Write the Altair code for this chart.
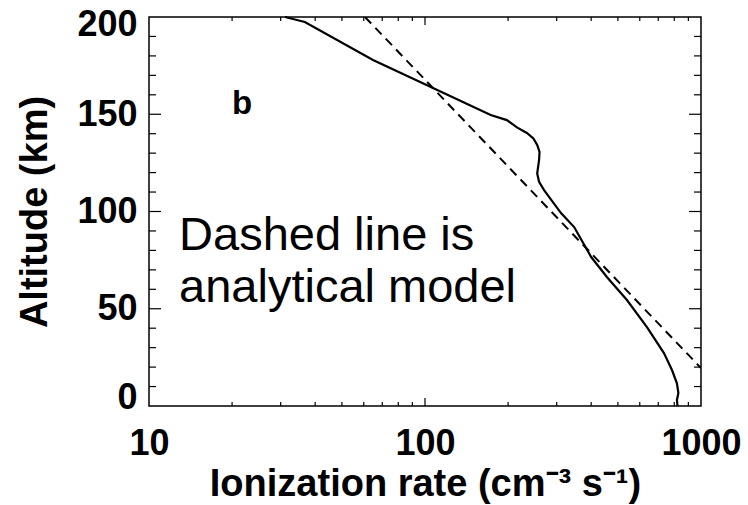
import altair as alt
import pandas as pd

# Solid curve (computed ionization rate profile)
solid_rate = [31.1, 36.7, 64.8, 105.0, 150.0, 173.0, 198.0, 216.0, 234.0, 247.0, 255.0, 260.0, 259.0,
              255.0, 259.0, 270.0, 311.0, 347.0, 400.0, 456.0, 539.0, 637.0, 734.0, 785.0, 818.0,
              828.0, 818.0, 822.0]
solid_alt = [200.0, 197.4, 177.9, 164.0, 153.7, 149.6, 147.0, 143.1, 140.4, 137.6, 134.2, 130.7, 126.5,
             119.6, 115.3, 111.0, 99.2, 92.0, 76.6, 66.3, 54.5, 40.6, 27.2, 18.5, 11.7,
             6.7, 3.1, 0.0]

# Dashed line (analytical model)
dashed_rate = [60.6, 1000.0]
dashed_alt = [200.0, 19.5]

# Annotations
panel_label = ["b"]
panel_x = [20.0]
panel_y = [150.0]
note_lines = ["Dashed line is", "analytical model"]
note_x = [12.85, 12.85]
note_y = [80.2, 53.5]

# Axis tick values
x_labels = [10, 100, 1000]
x_minor = [20, 30, 40, 50, 60, 70, 80, 90, 200, 300, 400, 500, 600, 700, 800, 900]
x_major_inner = [100]
y_labels = [0, 50, 100, 150, 200]
y_major_inner = [50, 100, 150]
y_minor = [10, 20, 30, 40, 60, 70, 80, 90, 110, 120, 130, 140, 160, 170, 180, 190]

W, H = 552, 389

solid_df = pd.DataFrame({"rate": solid_rate, "alt": solid_alt, "i": range(len(solid_rate))})
dashed_df = pd.DataFrame({"rate": dashed_rate, "alt": dashed_alt, "i": range(len(dashed_rate))})
b_df = pd.DataFrame({"rate": panel_x, "alt": panel_y, "label": panel_label})
note_df = pd.DataFrame({"rate": note_x, "alt": note_y, "label": note_lines})

xscale = alt.Scale(type="log", domain=[10, 1000], nice=False)
yscale = alt.Scale(domain=[0, 200], nice=False, zero=False)

X = alt.X("rate:Q", scale=xscale,
          axis=alt.Axis(values=x_labels, format="d", title="Ionization rate (cm\u207b\u00b3 s\u207b\u00b9)",
                        grid=False, ticks=False, domain=False, labelPadding=20, labelFlush=False,
                        labelFontSize=36, labelFontWeight="bold", titleFontSize=38,
                        titleFontWeight="bold", titlePadding=4, labelFont="Liberation Sans",
                        titleFont="Liberation Sans", labelColor="black", titleColor="black"))
Y = alt.Y("alt:Q", scale=yscale,
          axis=alt.Axis(values=y_labels, title="Altitude (km)", grid=False, ticks=False, domain=False,
                        labelPadding=12, labelFlush=True, labelFlushOffset=10, labelFontSize=36,
                        labelFontWeight="bold",
                        titleFontSize=38, titleFontWeight="bold", titlePadding=22,
                        labelFont="Liberation Sans", titleFont="Liberation Sans",
                        labelColor="black", titleColor="black"))

solid = alt.Chart(solid_df).mark_line(color="black", strokeWidth=2.2).encode(
    x=X, y=Y, order="i:Q")
dashed = alt.Chart(dashed_df).mark_line(color="black", strokeWidth=2, strokeDash=[9, 6], clip=True).encode(
    x=alt.X("rate:Q", scale=xscale), y=alt.Y("alt:Q", scale=yscale), order="i:Q")
btext = alt.Chart(b_df).mark_text(font="Liberation Sans", fontSize=33, fontWeight="bold",
                                  align="left", baseline="alphabetic", color="black").encode(
    x=alt.X("rate:Q", scale=xscale), y=alt.Y("alt:Q", scale=yscale), text="label:N")
note = alt.Chart(note_df).mark_text(font="Liberation Sans", fontSize=47, align="left",
                                    baseline="alphabetic", color="black").encode(
    x=alt.X("rate:Q", scale=xscale), y=alt.Y("alt:Q", scale=yscale), text="label:N")

def xticks(vals, length):
    d = pd.DataFrame({"rate": vals})
    bot = alt.Chart(d).mark_rule(color="black", strokeWidth=1.2).encode(
        x=alt.X("rate:Q", scale=xscale), y=alt.value(H), y2=alt.value(H - length))
    top = alt.Chart(d).mark_rule(color="black", strokeWidth=1.2).encode(
        x=alt.X("rate:Q", scale=xscale), y=alt.value(0), y2=alt.value(length))
    return [bot, top]

def yticks(vals, length):
    d = pd.DataFrame({"alt": vals})
    left = alt.Chart(d).mark_rule(color="black", strokeWidth=1.2).encode(
        y=alt.Y("alt:Q", scale=yscale), x=alt.value(0), x2=alt.value(length))
    right = alt.Chart(d).mark_rule(color="black", strokeWidth=1.2).encode(
        y=alt.Y("alt:Q", scale=yscale), x=alt.value(W), x2=alt.value(W - length))
    return [left, right]

layers = [solid, dashed, btext, note]
layers += xticks(x_minor, 4) + xticks(x_major_inner, 8)
layers += yticks(y_minor, 7) + yticks(y_major_inner, 12)

chart = alt.layer(*layers).properties(
    width=W, height=H,
    padding={"left": 149, "top": 17, "right": 47, "bottom": 99},
    autosize=alt.AutoSizeParams(type="none"),
    background="white",
).configure_view(stroke="black", strokeWidth=1.5)

chart.save("out.html", embed_options={"renderer": "svg", "actions": False})
